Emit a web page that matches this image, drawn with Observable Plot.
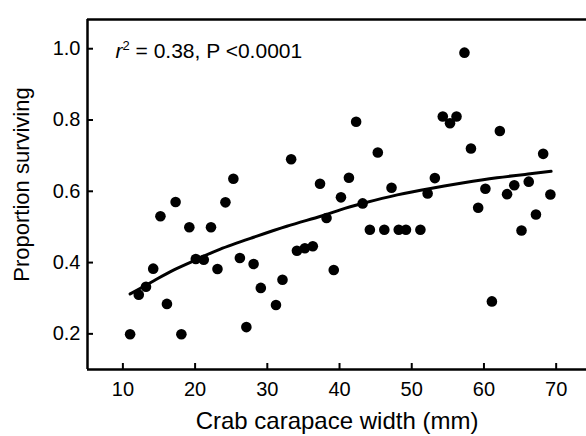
<!DOCTYPE html>
<html>
<head>
<meta charset="utf-8">
<script src="https://cdn.jsdelivr.net/npm/d3@7"></script>
<script src="https://cdn.jsdelivr.net/npm/@observablehq/plot@0.6"></script>
<style>
  html, body { margin: 0; padding: 0; background: #fff; }
  #chart svg { display: block; }
</style>
</head>
<body>
<div id="chart"></div>
<script>
// ---- data ----
const widths = [11.0,12.2,13.2,14.2,15.2,16.1,17.3,18.1,19.2,20.1,21.2,22.2,23.1,24.2,25.3,26.2,27.1,28.1,29.1,31.2,
  32.1,33.3,34.1,35.2,36.3,37.3,38.2,39.2,40.2,41.3,42.3,43.2,44.2,45.3,46.2,47.2,48.2,49.2,51.2,52.2,
  53.2,54.3,55.3,56.2,57.3,58.2,59.2,60.2,61.1,62.2,63.2,64.2,65.2,66.2,67.2,68.2,69.2];
const survival = [0.199,0.310,0.332,0.383,0.530,0.284,0.570,0.199,0.499,0.410,0.408,0.499,0.382,0.569,0.635,0.413,0.219,0.396,0.329,0.281,
  0.352,0.690,0.433,0.440,0.446,0.621,0.525,0.379,0.583,0.638,0.795,0.566,0.492,0.709,0.492,0.610,0.492,0.492,0.492,0.594,
  0.637,0.810,0.791,0.810,0.989,0.720,0.554,0.607,0.291,0.769,0.592,0.617,0.490,0.627,0.535,0.705,0.591];
const curveX = [11.0,14.3,17.0,20.7,23.5,28.1,32.7,37.4,40.1,43.4,48.0,52.6,57.2,61.8,66.4,69.3];
const curveY = [0.312,0.349,0.379,0.413,0.438,0.471,0.502,0.530,0.548,0.567,0.590,0.608,0.624,0.638,0.649,0.656];
const xTicks = [10,20,30,40,50,60,70];
const yTicks = [0.2,0.4,0.6,0.8,1.0];
const xDomain = [5.1, 74.2];
const yDomain = [0.1, 1.082];
const xTitle = "Crab carapace width (mm)";
const yTitle = "Proportion surviving";
const statText = "r2 = 0.38, P <0.0001";

const points = widths.map((w, i) => ({width: w, p: survival[i]}));
const curve = curveX.map((x, i) => ({width: x, p: curveY[i]}));

const font = "'Liberation Sans', Arial, Helvetica, sans-serif";

const chart = Plot.plot({
  width: 586,
  height: 436,
  marginLeft: 87,
  marginRight: 0,
  marginTop: 19,
  marginBottom: 67,
  style: {fontFamily: font, fontSize: "20px", color: "#000", background: "#fff", overflow: "visible"},
  x: {domain: xDomain},
  y: {domain: yDomain},
  marks: [
    // frame lines (left, bottom, top)
    Plot.ruleX([xDomain[0]], {stroke: "#000", strokeWidth: 2.5}),
    Plot.ruleY([yDomain[0], yDomain[1]], {stroke: "#000", strokeWidth: 2.5}),
    // inward ticks
    Plot.axisX({ticks: xTicks, tickSize: -6, text: null, label: null, strokeWidth: 2}),
    Plot.axisY({ticks: yTicks, tickSize: -6, text: null, label: null, strokeWidth: 2}),
    // tick labels
    Plot.axisX({ticks: xTicks, tickSize: 0, tickPadding: 12, tickFormat: d => d, label: null, fontSize: 20}),
    Plot.axisY({ticks: yTicks, tickSize: 0, tickPadding: 7, tickFormat: d => d.toFixed(1), label: null, fontSize: 20}),
    // axis titles
    Plot.text([xTitle], {frameAnchor: "bottom", text: d => d, dy: 52, fontSize: 24, lineAnchor: "middle"}),
    Plot.axisY({ticks: [], tickSize: 0, label: yTitle, labelAnchor: "center", labelArrow: "none", labelOffset: 74, fontSize: 22}),
    // statistic
    Plot.text([statText], {frameAnchor: "top-left", text: d => d, dx: 28, dy: 32, fontSize: 21, textAnchor: "start", lineAnchor: "middle"}),
    // fitted curve
    Plot.line(curve, {x: "width", y: "p", stroke: "#000", strokeWidth: 3, curve: "natural"}),
    // observations
    Plot.dot(points, {x: "width", y: "p", r: 5.3, fill: "#000", stroke: "none"})
  ]
});

const ns = "http://www.w3.org/2000/svg";
chart.querySelectorAll("text").forEach(t => {
  // italic r with superscript 2
  if (t.textContent === statText) {
    t.textContent = "";
    const a = document.createElementNS(ns, "tspan"); a.setAttribute("font-style", "italic"); a.textContent = "r";
    const b = document.createElementNS(ns, "tspan"); b.setAttribute("font-size", "13"); b.setAttribute("dy", "-8"); b.textContent = "2";
    const c = document.createElementNS(ns, "tspan"); c.setAttribute("dy", "8"); c.textContent = " = 0.38, P <0.0001";
    t.append(a, b, c);
  }
  // the reference's y title sits a little above the frame's middle
  if (t.textContent === yTitle) {
    t.setAttribute("transform", (t.getAttribute("transform") || "") + " translate(10,0)");
  }
});

document.getElementById("chart").appendChild(chart);
</script>
</body>
</html>
